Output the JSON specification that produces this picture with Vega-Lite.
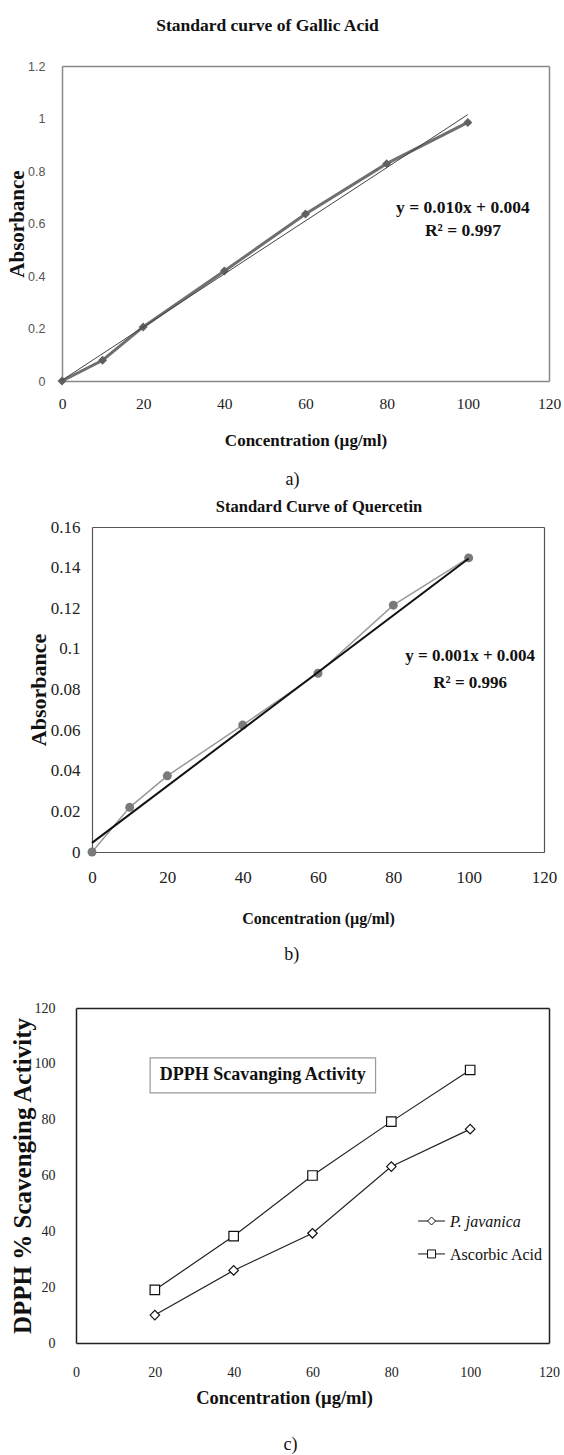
{
  "$schema": "https://vega.github.io/schema/vega-lite/v6.json",
  "padding": {"left": 6, "top": 16, "right": 0, "bottom": 0},
  "autosize": {"type": "pad"},
  "bounds": "flush",
  "spacing": 146,
  "config": {
    "font": "Liberation Serif",
    "view": {"stroke": null},
    "axis": {"grid": false, "ticks": false, "tickSize": 0, "labelFlush": false, "labelOverlap": false, "labelBound": false}
  },
  "datasets": {
    "gallic": [
      {"conc": 0, "abs": 0},
      {"conc": 10, "abs": 0.079},
      {"conc": 20, "abs": 0.206},
      {"conc": 40, "abs": 0.419},
      {"conc": 60, "abs": 0.636},
      {"conc": 80, "abs": 0.828},
      {"conc": 100, "abs": 0.985}
    ],
    "gallic_trend": [
      {"conc": 0, "abs": 0.003},
      {"conc": 100, "abs": 1.015}
    ],
    "quercetin": [
      {"conc": 0, "abs": 0},
      {"conc": 10, "abs": 0.022},
      {"conc": 20, "abs": 0.0375},
      {"conc": 40, "abs": 0.0625},
      {"conc": 60, "abs": 0.088},
      {"conc": 80, "abs": 0.1215},
      {"conc": 100, "abs": 0.1448}
    ],
    "quercetin_trend": [
      {"conc": 0, "abs": 0.0045},
      {"conc": 100, "abs": 0.1445}
    ],
    "dpph": [
      {"conc": 20, "activity": 10, "series": "P. javanica"},
      {"conc": 40, "activity": 26, "series": "P. javanica"},
      {"conc": 60, "activity": 39.3, "series": "P. javanica"},
      {"conc": 80, "activity": 63.2, "series": "P. javanica"},
      {"conc": 100, "activity": 76.6, "series": "P. javanica"},
      {"conc": 20, "activity": 19, "series": "Ascorbic Acid"},
      {"conc": 40, "activity": 38.3, "series": "Ascorbic Acid"},
      {"conc": 60, "activity": 60, "series": "Ascorbic Acid"},
      {"conc": 80, "activity": 79.3, "series": "Ascorbic Acid"},
      {"conc": 100, "activity": 97.8, "series": "Ascorbic Acid"}
    ]
  },
  "vconcat": [
    {
      "width": 487,
      "height": 315,
      "title": {"text": "Standard curve of Gallic Acid", "font": "Liberation Serif", "fontSize": 17.5, "fontWeight": "bold", "color": "#111", "anchor": "middle", "dx": -38, "offset": 17, "baseline": "middle"},
      "resolve": {"axis": {"x": "independent", "y": "independent"}},
      "layer": [
        {
          "data": {"name": "gallic"},
          "mark": {"type": "line", "color": "#6f6f6f", "strokeWidth": 3, "point": {"shape": "diamond", "filled": true, "color": "#606060", "size": 80}},
          "encoding": {
            "x": {"field": "conc", "type": "quantitative", "scale": {"domain": [0, 120], "nice": false},
              "axis": {"orient": "bottom", "values": [0, 20, 40, 60, 80, 100, 120], "title": "Concentration  (µg/ml)", "titleFont": "Liberation Serif", "titleFontSize": 17, "titleFontWeight": "bold", "titleColor": "#111", "titleY": 59, "titleBaseline": "middle", "labelFont": "Liberation Serif", "labelFontSize": 15.5, "labelColor": "#222", "labelPadding": 15, "domainColor": "#888", "domainWidth": 1.5}},
            "y": {"field": "abs", "type": "quantitative", "scale": {"domain": [0, 1.2], "nice": false},
              "axis": {"orient": "left", "values": [0, 0.2, 0.4, 0.6, 0.8, 1, 1.2], "format": "~g", "title": "Absorbance", "titleFont": "Liberation Serif", "titleFontSize": 21, "titleFontWeight": "bold", "titleColor": "#111", "titleX": -45, "titleBaseline": "middle", "labelFont": "Liberation Sans", "labelFontSize": 12.5, "labelColor": "#555", "labelPadding": 17, "domainColor": "#888", "domainWidth": 1.5}}
          }
        },
        {
          "data": {"name": "gallic_trend"},
          "mark": {"type": "line", "color": "#444", "strokeWidth": 1},
          "encoding": {
            "x": {"field": "conc", "type": "quantitative", "scale": {"domain": [0, 120], "nice": false},
              "axis": {"orient": "top", "labels": false, "title": null, "domainColor": "#888", "domainWidth": 1.5}},
            "y": {"field": "abs", "type": "quantitative", "scale": {"domain": [0, 1.2], "nice": false},
              "axis": {"orient": "right", "labels": false, "title": null, "domainColor": "#888", "domainWidth": 1.5}}
          }
        },
        {
          "data": {"values": [{"label": "y = 0.010x + 0.004\nR² = 0.997"}]},
          "mark": {"type": "text", "font": "Liberation Serif", "fontSize": 17.5, "fontWeight": "bold", "color": "#111", "lineBreak": "\n", "lineHeight": 23, "align": "center", "baseline": "middle"},
          "encoding": {
            "x": {"datum": 98.8, "type": "quantitative", "scale": {"domain": [0, 120], "nice": false}, "axis": null},
            "y": {"datum": 0.659, "type": "quantitative", "scale": {"domain": [0, 1.2], "nice": false}, "axis": null},
            "text": {"field": "label"}
          }
        },
        {
          "data": {"values": [{"label": "a)"}]},
          "mark": {"type": "text", "font": "Liberation Serif", "fontSize": 18, "color": "#111", "align": "center", "baseline": "middle"},
          "encoding": {
            "x": {"datum": 56.8, "type": "quantitative", "scale": {"domain": [0, 120], "nice": false}, "axis": null},
            "y": {"datum": -0.377, "type": "quantitative", "scale": {"domain": [0, 1.2], "nice": false}, "axis": null},
            "text": {"field": "label"}
          }
        }
      ]
    },
    {
      "width": 487,
      "height": 335,
      "title": {"text": "Standard Curve of Quercetin", "font": "Liberation Serif", "fontSize": 16.5, "fontWeight": "bold", "color": "#111", "anchor": "middle", "dx": 13.5, "offset": -5, "baseline": "middle"},
      "resolve": {"axis": {"x": "independent", "y": "independent"}},
      "layer": [
        {
          "data": {"name": "quercetin"},
          "mark": {"type": "line", "color": "#999", "strokeWidth": 1.5, "point": {"shape": "circle", "filled": true, "color": "#7a7a7a", "size": 80}},
          "encoding": {
            "x": {"field": "conc", "type": "quantitative", "scale": {"domain": [0, 120], "range": [30, 482], "nice": false},
              "axis": {"orient": "bottom", "offset": -10, "values": [0, 20, 40, 60, 80, 100, 120], "title": "Concentration  (µg/ml)", "titleFont": "Liberation Serif", "titleFontSize": 16, "titleFontWeight": "bold", "titleColor": "#111", "titleY": 66, "titleBaseline": "middle", "labelFont": "Liberation Serif", "labelFontSize": 17, "labelColor": "#222", "labelPadding": 17, "domainColor": "#555", "domainWidth": 1.2}},
            "y": {"field": "abs", "type": "quantitative", "scale": {"domain": [0, 0.16], "range": [325, 0], "nice": false},
              "axis": {"orient": "left", "offset": -30, "values": [0, 0.02, 0.04, 0.06, 0.08, 0.1, 0.12, 0.14, 0.16], "format": "~g", "title": "Absorbance", "titleFont": "Liberation Serif", "titleFontSize": 22, "titleFontWeight": "bold", "titleColor": "#111", "titleX": -54, "titleBaseline": "middle", "labelFont": "Liberation Serif", "labelFontSize": 17, "labelColor": "#222", "labelPadding": 12, "domainColor": "#555", "domainWidth": 1.2}}
          }
        },
        {
          "data": {"name": "quercetin_trend"},
          "mark": {"type": "line", "color": "#111", "strokeWidth": 2},
          "encoding": {
            "x": {"field": "conc", "type": "quantitative", "scale": {"domain": [0, 120], "range": [30, 482], "nice": false},
              "axis": {"orient": "top", "labels": false, "title": null, "domainColor": "#555", "domainWidth": 1.2}},
            "y": {"field": "abs", "type": "quantitative", "scale": {"domain": [0, 0.16], "range": [325, 0], "nice": false},
              "axis": {"orient": "right", "offset": -5, "labels": false, "title": null, "domainColor": "#555", "domainWidth": 1.2}}
          }
        },
        {
          "data": {"values": [{"label": "y = 0.001x + 0.004\nR² = 0.996"}]},
          "mark": {"type": "text", "font": "Liberation Serif", "fontSize": 17, "fontWeight": "bold", "color": "#111", "lineBreak": "\n", "lineHeight": 27, "align": "center", "baseline": "middle"},
          "encoding": {
            "x": {"datum": 100.4, "type": "quantitative", "scale": {"domain": [0, 120], "range": [30, 482], "nice": false}, "axis": null},
            "y": {"datum": 0.0965, "type": "quantitative", "scale": {"domain": [0, 0.16], "range": [325, 0], "nice": false}, "axis": null},
            "text": {"field": "label"}
          }
        },
        {
          "data": {"values": [{"label": "b)"}]},
          "mark": {"type": "text", "font": "Liberation Serif", "fontSize": 18, "color": "#111", "align": "center", "baseline": "middle"},
          "encoding": {
            "x": {"datum": 53.0, "type": "quantitative", "scale": {"domain": [0, 120], "range": [30, 482], "nice": false}, "axis": null},
            "y": {"datum": -0.0505, "type": "quantitative", "scale": {"domain": [0, 0.16], "range": [325, 0], "nice": false}, "axis": null},
            "text": {"field": "label"}
          }
        }
      ]
    },
    {
      "width": 487,
      "height": 335,
      "resolve": {"axis": {"x": "independent", "y": "independent"}, "scale": {"shape": "independent"}, "legend": {"shape": "independent"}},
      "layer": [
        {
          "data": {"name": "dpph"},
          "mark": {"type": "line", "color": "#222", "strokeWidth": 1.2},
          "encoding": {
            "x": {"field": "conc", "type": "quantitative", "scale": {"domain": [0, 120], "range": [14, 487], "nice": false},
              "axis": {"orient": "bottom", "values": [0, 20, 40, 60, 80, 100, 120], "title": "Concentration  (µg/ml)", "titleFont": "Liberation Serif", "titleFontSize": 18.5, "titleFontWeight": "bold", "titleColor": "#111", "titleX": 222, "titleY": 54, "titleBaseline": "middle", "labelFont": "Liberation Serif", "labelFontSize": 14, "labelColor": "#222", "labelPadding": 22, "domainColor": "#222", "domainWidth": 1.5}},
            "y": {"field": "activity", "type": "quantitative", "scale": {"domain": [0, 120], "nice": false},
              "axis": {"orient": "left", "offset": -14, "values": [0, 20, 40, 60, 80, 100, 120], "title": "DPPH % Scavenging Activity", "titleFont": "Liberation Serif", "titleFontSize": 25, "titleFontWeight": "bold", "titleColor": "#111", "titleX": -54, "titleBaseline": "middle", "labelFont": "Liberation Serif", "labelFontSize": 14, "labelColor": "#222", "labelPadding": 21, "domainColor": "#222", "domainWidth": 1.5}},
            "detail": {"field": "series"}
          }
        },
        {
          "data": {"name": "dpph"},
          "mark": {"type": "point", "filled": true, "fill": "white", "stroke": "#111", "strokeWidth": 1.2, "size": 90, "opacity": 1},
          "encoding": {
            "x": {"field": "conc", "type": "quantitative", "scale": {"domain": [0, 120], "range": [14, 487], "nice": false},
              "axis": {"orient": "top", "labels": false, "title": null, "domainColor": "#222", "domainWidth": 1.5}},
            "y": {"field": "activity", "type": "quantitative", "scale": {"domain": [0, 120], "nice": false},
              "axis": {"orient": "right", "labels": false, "title": null, "domainColor": "#222", "domainWidth": 1.5}},
            "shape": {"field": "series", "type": "nominal", "scale": {"domain": ["P. javanica", "Ascorbic Acid"], "range": ["diamond", "square"]}, "legend": null}
          }
        },
        {
          "data": {"name": "dpph"},
          "transform": [{"filter": "datum.series === 'none'"}],
          "mark": {"type": "point", "filled": true, "fill": "white", "stroke": "#111", "strokeWidth": 1, "opacity": 1},
          "encoding": {
            "x": {"field": "conc", "type": "quantitative", "scale": {"domain": [0, 120], "range": [14, 487], "nice": false}, "axis": null},
            "y": {"field": "activity", "type": "quantitative", "scale": {"domain": [0, 120], "nice": false}, "axis": null},
            "shape": {"field": "series", "type": "nominal", "scale": {"domain": ["P. javanica"], "range": ["stroke"]},
              "legend": {"orient": "none", "legendX": 356, "legendY": 200, "title": null, "padding": 0, "labelFont": "Liberation Serif", "labelFontSize": 16, "labelFontStyle": "italic", "labelColor": "#111", "labelOffset": 4, "symbolSize": 729, "symbolOpacity": 1, "symbolStrokeColor": "#111", "symbolStrokeWidth": 1}}
          }
        },
        {
          "data": {"name": "dpph"},
          "transform": [{"filter": "datum.series === 'none'"}],
          "mark": {"type": "point", "filled": true, "fill": "white", "stroke": "#111", "strokeWidth": 1, "opacity": 1},
          "encoding": {
            "x": {"field": "conc", "type": "quantitative", "scale": {"domain": [0, 120], "range": [14, 487], "nice": false}, "axis": null},
            "y": {"field": "activity", "type": "quantitative", "scale": {"domain": [0, 120], "nice": false}, "axis": null},
            "shape": {"field": "series", "type": "nominal", "scale": {"domain": ["Ascorbic Acid"], "range": ["stroke"]},
              "legend": {"orient": "none", "legendX": 356, "legendY": 233, "title": null, "padding": 0, "labelFont": "Liberation Serif", "labelFontSize": 16, "labelFontStyle": "normal", "labelColor": "#111", "labelOffset": 4, "symbolSize": 729, "symbolOpacity": 1, "symbolStrokeColor": "#111", "symbolStrokeWidth": 1}}
          }
        },
        {
          "data": {"values": [{"series": "P. javanica"}]},
          "mark": {"type": "rule", "color": "#111", "strokeWidth": 1},
          "encoding": {
            "x": {"datum": 86.8, "type": "quantitative", "scale": {"domain": [0, 120], "range": [14, 487], "nice": false}, "axis": null},
            "x2": {"datum": 93.6},
            "y": {"datum": 43.7, "type": "quantitative", "scale": {"domain": [0, 120], "nice": false}, "axis": null}
          }
        },
        {
          "data": {"values": [{"series": "P. javanica"}]},
          "mark": {"type": "point", "shape": "diamond", "filled": true, "fill": "white", "stroke": "#111", "strokeWidth": 1, "size": 64, "opacity": 1},
          "encoding": {
            "x": {"datum": 90.2, "type": "quantitative", "scale": {"domain": [0, 120], "range": [14, 487], "nice": false}, "axis": null},
            "y": {"datum": 43.7, "type": "quantitative", "scale": {"domain": [0, 120], "nice": false}, "axis": null}
          }
        },
        {
          "data": {"values": [{"series": "Ascorbic Acid"}]},
          "mark": {"type": "rule", "color": "#111", "strokeWidth": 1},
          "encoding": {
            "x": {"datum": 86.8, "type": "quantitative", "scale": {"domain": [0, 120], "range": [14, 487], "nice": false}, "axis": null},
            "x2": {"datum": 93.6},
            "y": {"datum": 31.9, "type": "quantitative", "scale": {"domain": [0, 120], "nice": false}, "axis": null}
          }
        },
        {
          "data": {"values": [{"series": "Ascorbic Acid"}]},
          "mark": {"type": "point", "shape": "square", "filled": true, "fill": "white", "stroke": "#111", "strokeWidth": 1, "size": 64, "opacity": 1},
          "encoding": {
            "x": {"datum": 90.2, "type": "quantitative", "scale": {"domain": [0, 120], "range": [14, 487], "nice": false}, "axis": null},
            "y": {"datum": 31.9, "type": "quantitative", "scale": {"domain": [0, 120], "nice": false}, "axis": null}
          }
        },
        {
          "data": {"values": [{"label": "DPPH Scavanging Activity"}]},
          "mark": {"type": "rect", "fill": "white", "stroke": "#999", "strokeWidth": 1.2},
          "encoding": {
            "x": {"datum": 18.8, "type": "quantitative", "scale": {"domain": [0, 120], "range": [14, 487], "nice": false}, "axis": null},
            "x2": {"datum": 76.0},
            "y": {"datum": 102.1, "type": "quantitative", "scale": {"domain": [0, 120], "nice": false}, "axis": null},
            "y2": {"datum": 89.6}
          }
        },
        {
          "data": {"values": [{"label": "DPPH Scavanging Activity"}]},
          "mark": {"type": "text", "font": "Liberation Serif", "fontSize": 18, "fontWeight": "bold", "color": "#111", "align": "center", "baseline": "middle"},
          "encoding": {
            "x": {"datum": 47.4, "type": "quantitative", "scale": {"domain": [0, 120], "range": [14, 487], "nice": false}, "axis": null},
            "y": {"datum": 95.9, "type": "quantitative", "scale": {"domain": [0, 120], "nice": false}, "axis": null},
            "text": {"field": "label"}
          }
        },
        {
          "data": {"values": [{"label": "c)"}]},
          "mark": {"type": "text", "font": "Liberation Serif", "fontSize": 18, "color": "#111", "align": "center", "baseline": "middle"},
          "encoding": {
            "x": {"datum": 54.4, "type": "quantitative", "scale": {"domain": [0, 120], "range": [14, 487], "nice": false}, "axis": null},
            "y": {"datum": -36.4, "type": "quantitative", "scale": {"domain": [0, 120], "nice": false}, "axis": null},
            "text": {"field": "label"}
          }
        }
      ]
    }
  ]
}
